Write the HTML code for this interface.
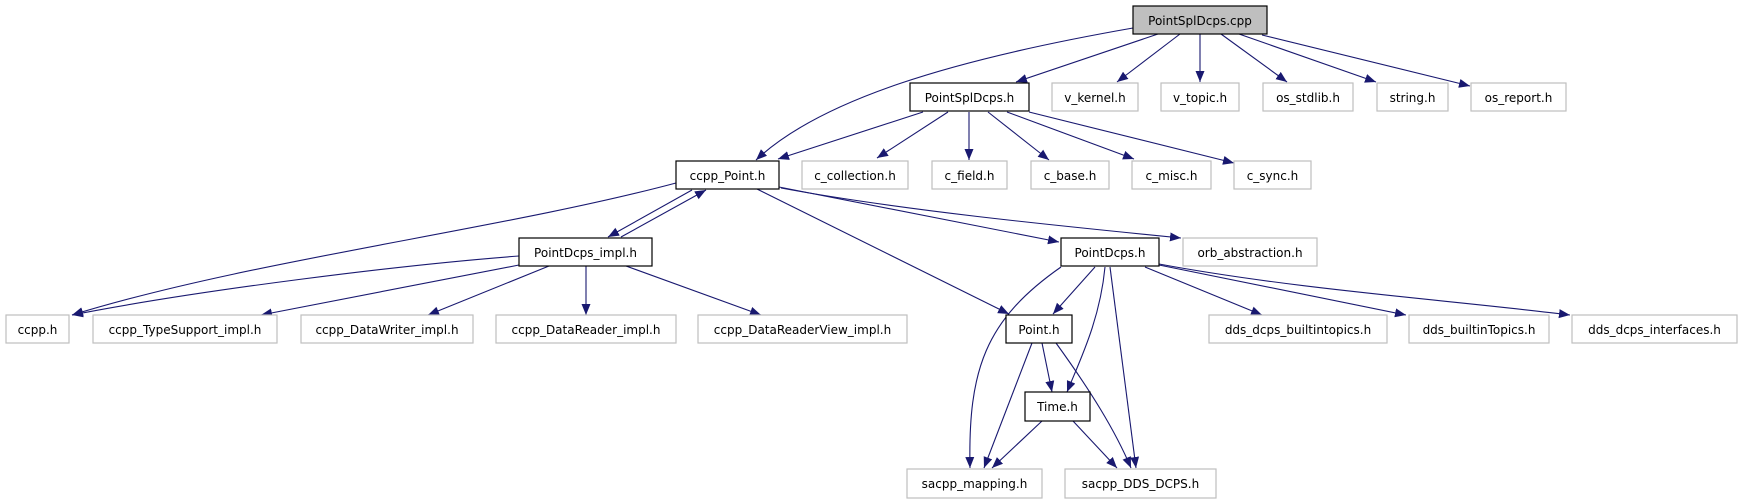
<!DOCTYPE html>
<html><head><meta charset="utf-8"><style>
html,body{margin:0;padding:0;background:#fff;}
svg{display:block;}
text{font-family:"DejaVu Sans","Liberation Sans",sans-serif;font-size:12px;fill:#000;text-anchor:middle;}
.n{fill:#fff;stroke:#bfbfbf;stroke-width:1.2;}
.b{fill:#fff;stroke:#000;stroke-width:1.2;}
.e{fill:none;stroke:#191970;stroke-width:1.1;marker-end:url(#a);}
</style></head><body>
<svg width="1740" height="504" viewBox="0 0 1740 504" xmlns="http://www.w3.org/2000/svg">
<defs><marker id="a" markerWidth="12" markerHeight="10" refX="11" refY="4.5" orient="auto" markerUnits="userSpaceOnUse"><path d="M0,0 L11,4.5 L0,9 z" fill="#191970"/></marker></defs>
<!-- edges -->
<path class="e" d="M1158,34 L1016,82"/>
<path class="e" d="M1133,28 C950,60 820,100 756,160"/>
<path class="e" d="M923,112 L778,159"/>
<path class="e" d="M1180,34 L1117,82"/>
<path class="e" d="M1200,34 L1200,82"/>
<path class="e" d="M1221,34 L1287,82"/>
<path class="e" d="M1239,34 L1376,82"/>
<path class="e" d="M1262,35 L1470,86"/>
<path class="e" d="M948,112 L877,158"/>
<path class="e" d="M969,112 L969,160"/>
<path class="e" d="M988,112 L1049,160"/>
<path class="e" d="M1007,112 L1134,159"/>
<path class="e" d="M1029,112 L1234,163"/>
<path class="e" d="M676,183 C500,230 250,260 72,315"/>
<path class="e" d="M692,190 L608,237"/>
<path class="e" d="M621,237 L706,190"/>
<path class="e" d="M757,189 L1009,314"/>
<path class="e" d="M779,187 L1059,242"/>
<path class="e" d="M781,188 C900,210 1050,225 1181,238"/>
<path class="e" d="M519,256 C400,265 200,290 72,315"/>
<path class="e" d="M519,265 L261,315"/>
<path class="e" d="M549,266 L428,315"/>
<path class="e" d="M586,266 L586,315"/>
<path class="e" d="M626,266 L761,315"/>
<path class="e" d="M1061,267 C985,320 968,370 970,468"/>
<path class="e" d="M1095,267 L1053,314"/>
<path class="e" d="M1105,267 C1100,320 1080,360 1067,392"/>
<path class="e" d="M1110,267 L1136,468"/>
<path class="e" d="M1145,267 L1262,315"/>
<path class="e" d="M1159,265 L1406,315"/>
<path class="e" d="M1159,264 C1300,290 1450,300 1570,315"/>
<path class="e" d="M1032,343 L984,468"/>
<path class="e" d="M1042,343 L1052,392"/>
<path class="e" d="M1056,343 C1090,390 1115,430 1131,468"/>
<path class="e" d="M1042,421 L992,468"/>
<path class="e" d="M1073,421 L1117,468"/>
<!-- nodes -->
<rect x="1133" y="6" width="134" height="28" fill="#bfbfbf" stroke="#000" stroke-width="1.2"/><text x="1200" y="25">PointSplDcps.cpp</text>
<rect class="b" x="910" y="83" width="119" height="28"/><text x="969.5" y="102">PointSplDcps.h</text>
<rect class="n" x="1052" y="83" width="86" height="28"/><text x="1095" y="102">v_kernel.h</text>
<rect class="n" x="1161" y="83" width="78" height="28"/><text x="1200" y="102">v_topic.h</text>
<rect class="n" x="1263" y="83" width="90" height="28"/><text x="1308" y="102">os_stdlib.h</text>
<rect class="n" x="1377" y="83" width="71" height="28"/><text x="1412.5" y="102">string.h</text>
<rect class="n" x="1471" y="83" width="95" height="28"/><text x="1518.5" y="102">os_report.h</text>
<rect class="b" x="676" y="161" width="103" height="28"/><text x="727.5" y="180">ccpp_Point.h</text>
<rect class="n" x="802" y="161" width="106" height="28"/><text x="855" y="180">c_collection.h</text>
<rect class="n" x="932" y="161" width="75" height="28"/><text x="969.5" y="180">c_field.h</text>
<rect class="n" x="1031" y="161" width="78" height="28"/><text x="1070" y="180">c_base.h</text>
<rect class="n" x="1132" y="161" width="79" height="28"/><text x="1171.5" y="180">c_misc.h</text>
<rect class="n" x="1234" y="161" width="77" height="28"/><text x="1272.5" y="180">c_sync.h</text>
<rect class="b" x="519" y="238" width="133" height="28"/><text x="585.5" y="257">PointDcps_impl.h</text>
<rect class="b" x="1061" y="238" width="98" height="28"/><text x="1110" y="257">PointDcps.h</text>
<rect class="n" x="1183" y="238" width="134" height="28"/><text x="1250" y="257">orb_abstraction.h</text>
<rect class="n" x="6" y="315" width="63" height="28"/><text x="37.5" y="334">ccpp.h</text>
<rect class="n" x="93" y="315" width="184" height="28"/><text x="185" y="334">ccpp_TypeSupport_impl.h</text>
<rect class="n" x="301" y="315" width="172" height="28"/><text x="387" y="334">ccpp_DataWriter_impl.h</text>
<rect class="n" x="496" y="315" width="180" height="28"/><text x="586" y="334">ccpp_DataReader_impl.h</text>
<rect class="n" x="698" y="315" width="209" height="28"/><text x="802.5" y="334">ccpp_DataReaderView_impl.h</text>
<rect class="b" x="1006" y="315" width="66" height="28"/><text x="1039" y="334">Point.h</text>
<rect class="n" x="1209" y="315" width="178" height="28"/><text x="1298" y="334">dds_dcps_builtintopics.h</text>
<rect class="n" x="1409" y="315" width="140" height="28"/><text x="1479" y="334">dds_builtinTopics.h</text>
<rect class="n" x="1572" y="315" width="165" height="28"/><text x="1654.5" y="334">dds_dcps_interfaces.h</text>
<rect class="b" x="1025" y="392" width="65" height="29"/><text x="1057.5" y="411">Time.h</text>
<rect class="n" x="907" y="469" width="135" height="29"/><text x="974.5" y="488">sacpp_mapping.h</text>
<rect class="n" x="1065" y="469" width="151" height="29"/><text x="1140.5" y="488">sacpp_DDS_DCPS.h</text>
</svg>
</body></html>
